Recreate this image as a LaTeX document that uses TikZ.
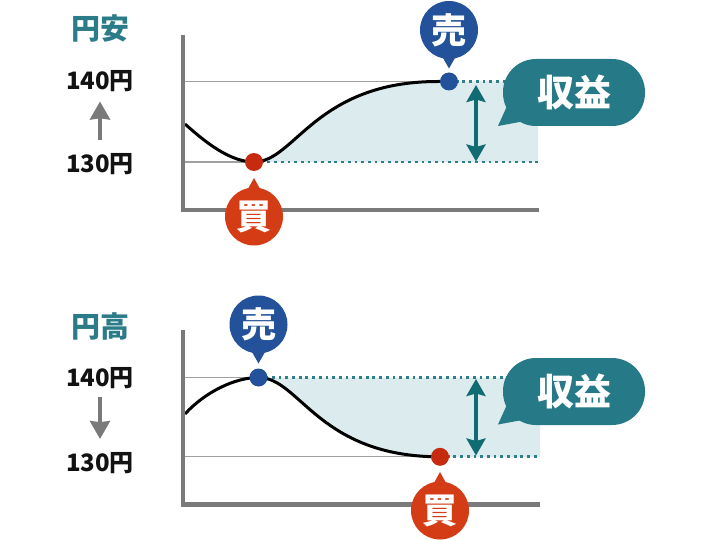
\documentclass[tikz,border=0pt]{standalone}
\usepackage{fontspec}
\setmainfont{Noto Sans CJK JP}
\usetikzlibrary{arrows.meta}
\definecolor{tealc}{HTML}{267986}
\definecolor{labelteal}{HTML}{2B7B88}
\definecolor{darkteal}{HTML}{106B73}
\definecolor{dotteal}{HTML}{2E7F89}
\definecolor{fillc}{HTML}{DCEBEE}
\definecolor{axisgray}{HTML}{7A7A7A}
\definecolor{thingray}{HTML}{A0A0A0}
\definecolor{sellblue}{HTML}{23529A}
\definecolor{buyred}{HTML}{D43C16}
\definecolor{dotred}{HTML}{C62B0F}
\begin{document}
\begin{tikzpicture}[x=1pt,y=-1pt,
  axisline/.style={draw=axisgray,line width=4.5pt,line join=miter},
  thinline/.style={draw=thingray,line width=1.3pt},
  curveline/.style={draw=black,line width=3pt},
  dotline/.style={draw=dotteal,line width=2.8pt,dash pattern=on 2.8pt off 3.9pt},
  pricedot/.style={circle,inner sep=0pt,minimum size=18pt},
  marker/.style={circle,inner sep=0pt,minimum size=58pt,text=white,font=\fontsize{35}{35}\selectfont\bfseries},
  bubble/.style={fill=tealc,rounded corners=33pt,minimum width=142pt,minimum height=67pt,inner sep=0pt,text=white,font=\fontsize{37}{37}\selectfont\bfseries},
  pricelbl/.style={inner sep=0pt,text=black!93,font=\fontsize{24}{24}\selectfont\bfseries},
  titlelbl/.style={inner sep=0pt,text=labelteal,font=\fontsize{29}{29}\selectfont\bfseries},
  grayarrow/.style={draw=axisgray,line width=3.7pt,-{Stealth[length=18pt,width=20pt,inset=1.2pt]}},
  gainarrow/.style={draw=darkteal,line width=3.8pt,{Stealth[length=17pt,width=19pt,inset=2.5pt]}-{Stealth[length=17pt,width=19pt,inset=2.5pt]}}
]
\useasboundingbox (0,0) rectangle (704,540);

% ================= top panel (円安) =================
\coordinate (ts) at (185,124);
\coordinate (tbuyp) at (254,162);
\coordinate (tsellp) at (449,81.5);
\coordinate (thiend) at (538,81.5);
\coordinate (tloend) at (538,162);
\coordinate (tflat) at (438,81.5);
\coordinate (tgl1) at (185,81.5);
\coordinate (tgl2) at (185,162);
\coordinate (tax0) at (183,35);
\coordinate (tax1) at (183,210);
\coordinate (tax2) at (539,210);
\coordinate (tarrA) at (476,85);
\coordinate (tarrB) at (476,161.5);
\coordinate (tgA) at (100,140);
\coordinate (tgB) at (100,101.5);

\fill[fillc] (tbuyp) .. controls (295,162) and (315,81.5) .. (tflat) -- (thiend) -- (tloend) -- cycle;
\draw[thinline] (tgl1) -- (tsellp);
\draw[thinline] (tgl2) -- (tbuyp);
\draw[dotline] (tsellp) -- (thiend);
\draw[dotline] (tbuyp) -- (tloend);
\draw[curveline] (ts) .. controls (205,142) and (230,162) .. (tbuyp) .. controls (295,162) and (315,81.5) .. (tflat) -- (tsellp);
\draw[gainarrow] (tarrA) -- (tarrB);
\draw[axisline] (tax0) -- (tax1) -- (tax2);

\node[pricedot,fill=dotred] (tbuy) at (tbuyp) {};
\node[pricedot,fill=sellblue] (tsell) at (tsellp) {};

\fill[buyred] (254,178) -- (243.5,197) -- (264.5,197) -- cycle;
\node[marker,fill=buyred] (tbuymk) at (254,216.5) {買};
\fill[sellblue] (449,68.5) -- (438.5,50) -- (459.5,50) -- cycle;
\node[marker,fill=sellblue] (tsellmk) at (449,30) {売};

\fill[tealc] (498,126) -- (507,106) -- (525,121) -- cycle;
\node[bubble] (tgain) at (574,92.5) {収益};

\node[titlelbl] (ttitle) at (100,28) {円安};
\node[pricelbl] (t140) at (100,81) {140円};
\node[pricelbl] (t130) at (100,164) {130円};
\draw[grayarrow] (tgA) -- (tgB);

% ================= bottom panel (円高) =================
\coordinate (bs) at (185,414);
\coordinate (bsellp) at (258.5,377.5);
\coordinate (bbuyp) at (440,456.8);
\coordinate (bhiend) at (540,377.5);
\coordinate (bloend) at (540,456.8);
\coordinate (bgl1) at (185,377.5);
\coordinate (bgl2) at (185,456.8);
\coordinate (bax0) at (183,330);
\coordinate (bax1) at (183,504.5);
\coordinate (bax2) at (540,504.5);
\coordinate (barrA) at (476,379);
\coordinate (barrB) at (476,455.5);
\coordinate (bgA) at (100,397);
\coordinate (bgB) at (100,439);

\fill[fillc] (bsellp) .. controls (300,377.5) and (318,456.8) .. (bbuyp) -- (bloend) -- (bhiend) -- cycle;
\draw[thinline] (bgl1) -- (bsellp);
\draw[thinline] (bgl2) -- (bbuyp);
\draw[dotline] (bsellp) -- (bhiend);
\draw[dotline] (bbuyp) -- (bloend);
\draw[curveline] (bs) .. controls (205,392) and (235,377.5) .. (bsellp) .. controls (300,377.5) and (318,456.8) .. (bbuyp);
\draw[gainarrow] (barrA) -- (barrB);
\draw[axisline] (bax0) -- (bax1) -- (bax2);

\node[pricedot,fill=sellblue] (bsell) at (bsellp) {};
\node[pricedot,fill=dotred] (bbuy) at (bbuyp) {};

\fill[sellblue] (258.5,363.5) -- (248,345) -- (269,345) -- cycle;
\node[marker,fill=sellblue] (bsellmk) at (258.5,324.5) {売};
\fill[buyred] (440,472) -- (429.5,491) -- (450.5,491) -- cycle;
\node[marker,fill=buyred] (bbuymk) at (440,510.5) {買};

\fill[tealc] (498,424.5) -- (507,404.5) -- (525,419.5) -- cycle;
\node[bubble] (bgain) at (574,391.5) {収益};

\node[titlelbl] (btitle) at (100,326) {円高};
\node[pricelbl] (b140) at (100,378) {140円};
\node[pricelbl] (b130) at (100,463) {130円};
\draw[grayarrow] (bgA) -- (bgB);
\end{tikzpicture}
\end{document}
